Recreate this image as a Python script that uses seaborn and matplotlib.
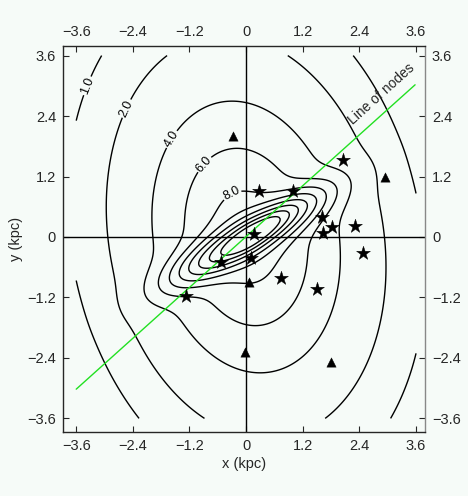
import matplotlib
matplotlib.use("Agg")
import matplotlib.pyplot as plt
import numpy as np
import seaborn as sns

# contour levels and the ones carrying a label
LEVELS = [1.0, 2.0, 4.0, 6.0, 8.0, 10.0, 12.0, 14.0, 16.0, 18.0]
LABELLED = [1.0, 2.0, 4.0, 6.0, 8.0]
LABEL_POS = [(-3.5, 3.05), (-2.7, 2.62), (-1.72, 2.02), (-1.04, 1.57), (-0.44, 1.09)]

# surface density model: disc + bar + core
DISC_PEAK, DISC_SCALE, DISC_POW, DISC_FLAT, DISC_PA = 9.43, 2.16, 1.5, 1.4, 13.0
BAR_PEAK, BAR_LEN, BAR_WIDTH, BAR_PA = 9.5, 1.9, 0.36, 28.0
BAR_X0, BAR_Y0 = 0.05, 0.0
CORE_PEAK, CORE_LEN, CORE_WIDTH, CORE_PA = 3.0, 0.75, 0.22, 33.0
CORE_X0, CORE_Y0 = 0.2, 0.07
GRID = np.linspace(-3.6, 3.6, 241)

# objects
STAR_X = [0.28, 1.0, 2.06, 1.61, 1.82, 1.63, 2.31, 0.17, -0.53, 0.11, 0.74, 2.48, 1.50, -1.27]
STAR_Y = [0.91, 0.91, 1.53, 0.40, 0.19, 0.08, 0.22, 0.06, -0.50, -0.42, -0.81, -0.32, -1.03, -1.17]
TRI_X = [-0.28, 2.94, 0.06, -0.02, 1.80]
TRI_Y = [2.00, 1.19, -0.89, -2.28, -2.48]

LON_X = [-3.6, 3.58]
LON_Y = [-3.02, 3.02]

TICKS = [-3.6, -2.4, -1.2, 0, 1.2, 2.4, 3.6]
TICK_LABELS = ["\u22123.6", "\u22122.4", "\u22121.2", "0", "1.2", "2.4", "3.6"]

BG = "#f6fbf8"


def rotate(x, y, x0, y0, pa):
    a = np.deg2rad(pa)
    dx, dy = x - x0, y - y0
    return dx * np.cos(a) + dy * np.sin(a), -dx * np.sin(a) + dy * np.cos(a)


def density(x, y):
    xd, yd = rotate(x, y, 0.0, 0.0, DISC_PA)
    r = np.sqrt(xd ** 2 + (yd / DISC_FLAT) ** 2)
    disc = DISC_PEAK * np.exp(-(r / DISC_SCALE) ** DISC_POW)
    u, v = rotate(x, y, BAR_X0, BAR_Y0, BAR_PA)
    bar = BAR_PEAK * np.exp(-np.abs(u / BAR_LEN) ** 3 - (v / BAR_WIDTH) ** 2)
    u, v = rotate(x, y, CORE_X0, CORE_Y0, CORE_PA)
    core = CORE_PEAK * np.exp(-(u / CORE_LEN) ** 2 - (v / CORE_WIDTH) ** 2)
    return disc + bar + core


def main() -> None:
    sns.set_theme(style="ticks")
    plt.rcParams["font.family"] = ["Liberation Sans", "DejaVu Sans"]
    plt.rcParams["axes.linewidth"] = 1.0

    fig = plt.figure(figsize=(4.68, 4.96), dpi=100, facecolor=BG)
    ax = fig.add_axes([63 / 468, 1 - 432 / 496, 362 / 468, 386 / 496])
    ax.set_facecolor(BG)

    X, Y = np.meshgrid(GRID, GRID)
    Z = density(X, Y)
    cs = ax.contour(X, Y, Z, levels=LEVELS, colors="black", linewidths=1.0)
    ax.clabel(cs, levels=LABELLED, manual=LABEL_POS, fmt="%.1f", fontsize=9,
              inline=True, inline_spacing=2)

    ax.axhline(0, color="black", lw=1.0)
    ax.axvline(0, color="black", lw=1.0)

    ax.plot(LON_X, LON_Y, color="#22e022", lw=1.0)
    ax.text(2.3, 2.18, "Line of nodes", rotation=42, rotation_mode="anchor",
            ha="left", va="bottom", fontsize=10)

    sns.scatterplot(x=STAR_X, y=STAR_Y, marker="*", s=110, color="black", edgecolor="black",
                    linewidth=0.3, ax=ax, zorder=5, legend=False)
    sns.scatterplot(x=TRI_X, y=TRI_Y, marker="^", s=45, color="black", edgecolor="black",
                    linewidth=0.3, ax=ax, zorder=5, legend=False)

    ax.set_xlim(-3.88, 3.79)
    ax.set_ylim(-3.87, 3.79)
    ax.set_xticks(TICKS, TICK_LABELS)
    ax.set_yticks(TICKS, TICK_LABELS)
    ax.tick_params(direction="in", length=4, width=0.8, top=True, right=True,
                   labeltop=True, labelright=True, labelsize=10.5, pad=5)
    ax.set_xlabel("x (kpc)", fontsize=10.5, labelpad=3)
    ax.set_ylabel("y (kpc)", fontsize=10.5, labelpad=3)
    ax.spines["right"].set_color("#888888")

    fig.savefig("out.png", dpi=100, facecolor=BG)


if __name__ == "__main__":
    main()
